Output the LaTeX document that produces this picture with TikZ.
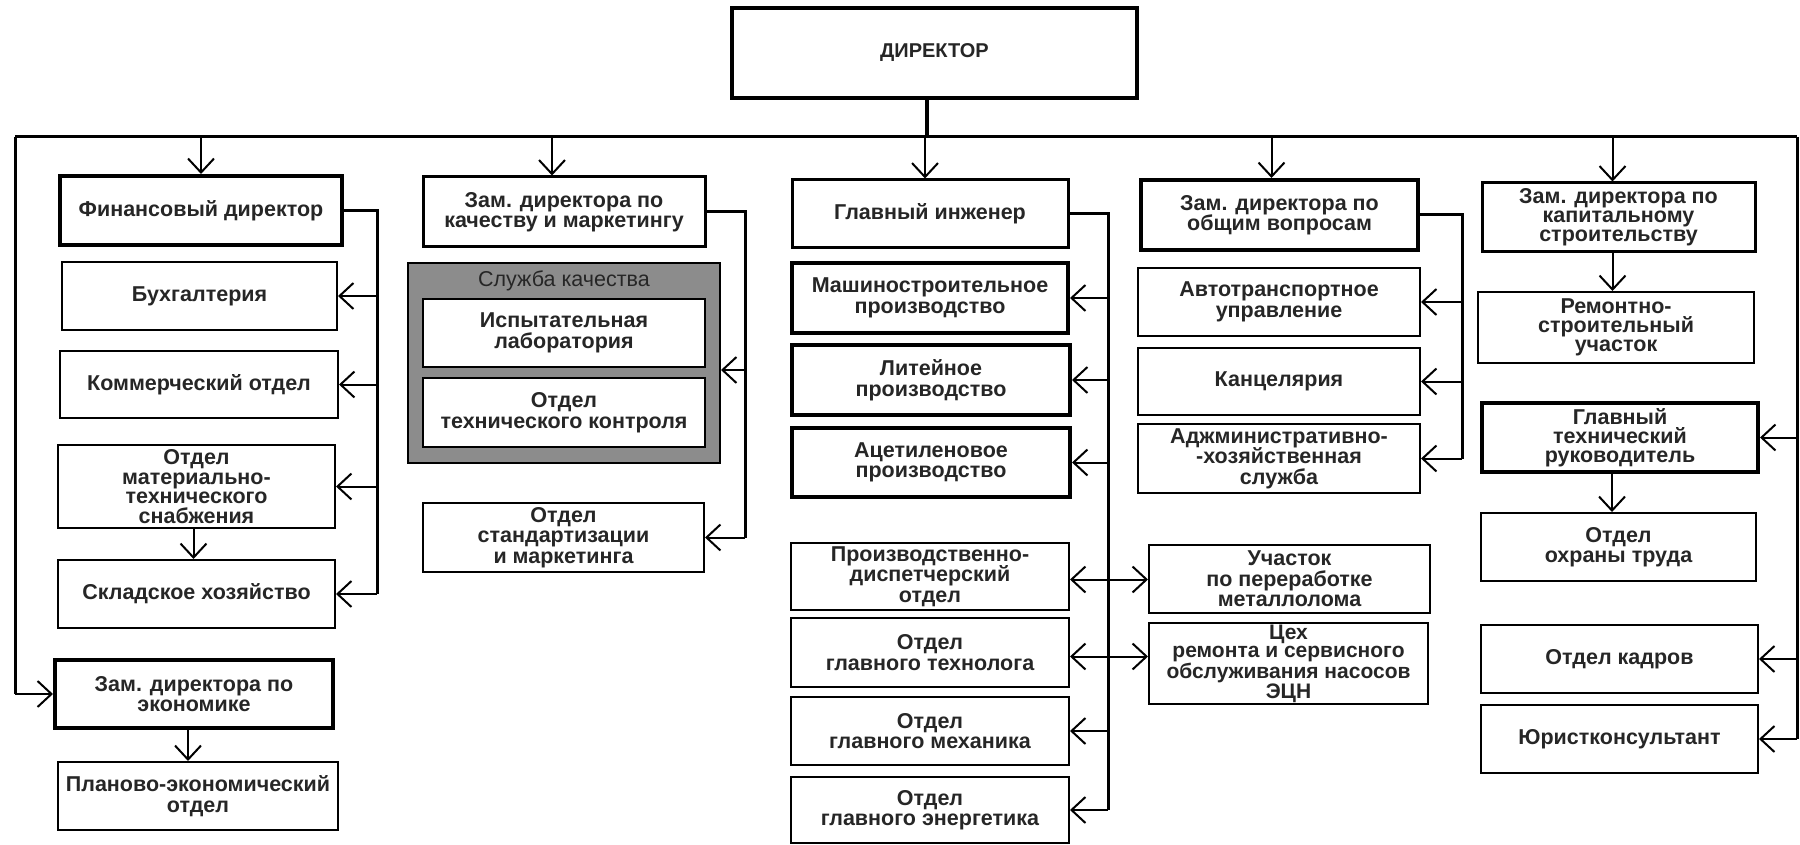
\documentclass[tikz,border=0pt]{standalone}
\usepackage{fontspec}
\setmainfont{Liberation Sans}
\usetikzlibrary{arrows.meta,calc}
\tikzset{
  box/.style={draw, line width=2pt, align=center, fill=white, inner sep=1pt,
    font=\bfseries\fontsize{21.5}{20.5}\selectfont, text=black!85},
  thickbox/.style={box, line width=4pt},
  midbox/.style={box, line width=3pt},
  conn/.style={line width=3pt},
  barb/.style={Straight Barb[length=14pt,width=26pt]},
  arr/.style={line width=2pt, -{Straight Barb[length=14pt,width=26pt]}},
  darr/.style={line width=2pt, {Straight Barb[length=14pt,width=26pt]}-{Straight Barb[length=14pt,width=26pt]}},
  graybox/.style={draw, line width=2pt, fill=black!45},
}
\begin{document}
\begin{tikzpicture}[x=1pt,y=-1pt]
\fill[white] (0,0) rectangle (1800,845);
\useasboundingbox (0,0) rectangle (1800,845);

% director
\node[thickbox, minimum width=405pt, minimum height=90pt, font=\bfseries\fontsize{20}{20}\selectfont] (dir) at (934.5,53) {ДИРЕКТОР};

% column 1
\node[thickbox, minimum width=282pt, minimum height=69pt] (fin) at (201,210.5) {Финансовый директор};
\node[box, minimum width=275pt, minimum height=68pt] (buh) at (199.5,296) {Бухгалтерия};
\node[box, minimum width=278pt, minimum height=67pt] (kom) at (199,384.5) {Коммерческий отдел};
\node[box, minimum width=277pt, minimum height=83pt, font=\bfseries\fontsize{21.5}{19.5}\selectfont] (mts) at (196.5,486.5) {Отдел\\материально-\\технического\\снабжения};
\node[box, minimum width=277pt, minimum height=68pt] (skl) at (196.5,594) {Складское хозяйство};
\node[thickbox, minimum width=278pt, minimum height=68pt] (zek) at (194,694) {Зам. директора по\\экономике};
\node[box, minimum width=280pt, minimum height=68pt] (plan) at (198,796) {Планово-экономический\\отдел};

% column 2
\node[midbox, minimum width=282pt, minimum height=70pt] (zk) at (564,212) {Зам. директора по\\качеству и маркетингу};
\node[graybox, minimum width=312pt, minimum height=200pt] (sk) at (564,363) {};
\node[font=\fontsize{21.5}{20.5}\selectfont, text=black!85] (skl2) at (564,281) {Служба качества};
\node[box, minimum width=282pt, minimum height=68pt] (isp) at (564,333) {Испытательная\\лаборатория};
\node[box, minimum width=282pt, minimum height=69pt] (otk) at (564,412.5) {Отдел\\технического контроля};
\node[box, minimum width=281pt, minimum height=69pt] (std) at (563.5,537.5) {Отдел\\стандартизации\\и маркетинга};

% column 3
\node[midbox, minimum width=276pt, minimum height=68pt] (gi) at (930,214) {Главный инженер};
\node[thickbox, minimum width=276pt, minimum height=70pt] (mash) at (930,298) {Машиностроительное\\производство};
\node[thickbox, minimum width=278pt, minimum height=70pt] (lit) at (931,380) {Литейное\\производство};
\node[thickbox, minimum width=278pt, minimum height=69pt] (ac) at (931,462.5) {Ацетиленовое\\производство};
\node[box, minimum width=278pt, minimum height=67pt] (pdo) at (930,576.5) {Производственно-\\диспетчерский\\отдел};
\node[box, minimum width=278pt, minimum height=69pt] (teh) at (930,652.5) {Отдел\\главного технолога};
\node[box, minimum width=278pt, minimum height=68pt] (meh) at (930,731) {Отдел\\главного механика};
\node[box, minimum width=278pt, minimum height=66pt] (en) at (930,810) {Отдел\\главного энергетика};

% column 4
\node[thickbox, minimum width=277pt, minimum height=70pt] (zo) at (1279.5,215) {Зам. директора по\\общим вопросам};
\node[box, minimum width=282pt, minimum height=68pt] (avt) at (1279,302) {Автотранспортное\\управление};
\node[box, minimum width=282pt, minimum height=67pt] (kan) at (1279,381.5) {Канцелярия};
\node[box, minimum width=282pt, minimum height=69pt] (ahs) at (1279,458.5) {Аджминистративно-\\-хозяйственная\\служба};
\node[box, minimum width=281pt, minimum height=68pt] (uch) at (1289.5,579) {Участок\\по переработке\\металлолома};
\node[box, minimum width=279pt, minimum height=81pt, font=\bfseries\fontsize{21}{18}\selectfont] (tseh) at (1288.5,663.5) {Цех\\ремонта и сервисного\\обслуживания насосов\\ЭЦН};

% column 5
\node[midbox, minimum width=273pt, minimum height=69pt, font=\bfseries\fontsize{21.5}{19}\selectfont] (zkap) at (1618.5,217.5) {Зам. директора по\\капитальному\\строительству};
\node[box, minimum width=276pt, minimum height=71pt, font=\bfseries\fontsize{21.5}{19}\selectfont] (rsu) at (1616,327.5) {Ремонтно-\\строительный\\участок};
\node[thickbox, minimum width=276pt, minimum height=69pt, font=\bfseries\fontsize{21.5}{19}\selectfont] (gtr) at (1620,437.5) {Главный\\технический\\руководитель};
\node[box, minimum width=275pt, minimum height=68pt] (ohr) at (1618.5,547) {Отдел\\охраны труда};
\node[box, minimum width=277pt, minimum height=68pt] (kadr) at (1619.5,659) {Отдел кадров};
\node[box, minimum width=277pt, minimum height=68pt] (yur) at (1619.5,739) {Юристконсультант};

% bus
\coordinate (busL) at (15,137);
\coordinate (busR) at (1797,137);
\draw[line width=3pt] (busL) -- (busR);
\draw[line width=4pt] ([xshift=-8pt]dir.south) -- ([xshift=-8pt]dir.south |- busL);

\draw[arr] (fin.north |- busL) -- (fin.north);
\draw[arr] ([xshift=-12pt]zk.north |- busL) -- ([xshift=-12pt]zk.north);
\draw[arr] ([xshift=-5pt]gi.north |- busL) -- ([xshift=-5pt]gi.north);
\draw[arr] ([xshift=-8pt]zo.north |- busL) -- ([xshift=-8pt]zo.north);
\draw[arr] ([xshift=-6pt]zkap.north |- busL) -- ([xshift=-6pt]zkap.north);

% left outer line
\draw[conn] (busL) -- (busL |- zek.west);
\draw[arr] (busL |- zek.west) -- (zek.west);

% right outer line
\draw[conn] (busR) -- (busR |- yur.east);
\draw[arr] (busR |- gtr.east) -- (gtr.east);
\draw[arr] (busR |- kadr.east) -- (kadr.east);
\draw[arr] (busR |- yur.east) -- (yur.east);

% financial branch
\coordinate (fbr) at (377,0);
\draw[conn] (fin.east) -| (fbr |- skl.east);
\draw[arr] (fbr |- buh.east) -- (buh.east);
\draw[arr] (fbr |- kom.east) -- (kom.east);
\draw[arr] (fbr |- mts.east) -- (mts.east);
\draw[arr] (fbr |- skl.east) -- (skl.east);
\draw[arr] ([xshift=-3pt]mts.south) -- ([xshift=-3pt]skl.north);
\draw[arr] ([xshift=-6pt]zek.south) -- ([xshift=-6pt]zek.south |- plan.north);

% quality branch
\coordinate (kbr) at (745,0);
\coordinate (skin) at ([yshift=-7pt]sk.east);
\draw[conn] (zk.east) -| (kbr |- std.east);
\draw[arr] (kbr |- skin) -- (skin);
\draw[arr] (kbr |- std.east) -- (std.east);

% chief engineer branch
\coordinate (gbr) at (1108,0);
\draw[conn] (gi.east) -| (gbr |- en.east);
\draw[arr] (gbr |- mash.east) -- (mash.east);
\draw[arr] (gbr |- lit.east) -- (lit.east);
\draw[arr] (gbr |- ac.east) -- (ac.east);
\draw[arr] (gbr |- meh.east) -- (meh.east);
\draw[arr] (gbr |- en.east) -- (en.east);
\coordinate (pdoin) at ([yshift=-3pt]pdo.east);
\coordinate (tehin) at ([yshift=-4pt]teh.east);
\draw[darr] (pdoin) -- (pdoin -| uch.west);
\draw[darr] (tehin) -- (tehin -| tseh.west);

% general affairs branch
\coordinate (obr) at (1462,0);
\draw[conn] (zo.east) -| (obr |- ahs.east);
\draw[arr] (obr |- avt.east) -- (avt.east);
\draw[arr] (obr |- kan.east) -- (kan.east);
\draw[arr] (obr |- ahs.east) -- (ahs.east);

% capital construction
\draw[arr] ([xshift=-6pt]zkap.south) -- ([xshift=-6pt]zkap.south |- rsu.north);
\draw[arr] ([xshift=-8pt]gtr.south) -- ([xshift=-8pt]gtr.south |- ohr.north);
\end{tikzpicture}
\end{document}
